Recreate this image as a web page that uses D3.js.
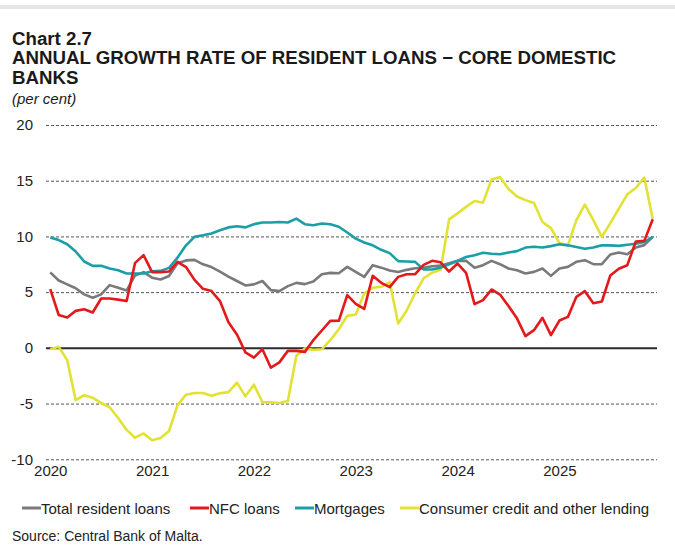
<!DOCTYPE html>
<html>
<head>
<meta charset="utf-8">
<script src="https://cdn.jsdelivr.net/npm/d3@7"></script>
<style>
  html, body { margin: 0; padding: 0; background: #fff; }
  svg { display: block; font-family: "Liberation Sans", Arial, sans-serif; }
</style>
</head>
<body>
<svg id="chart" width="675" height="545"></svg>
<script>
// Monthly observations, January 2020 to December 2025
const months = d3.timeMonths(new Date(2020, 0, 1), new Date(2026, 0, 1));

const yearLabels = ["2020", "2021", "2022", "2023", "2024", "2025"];
const yTicks = [20, 15, 10, 5, 0, -5, -10];

const seriesNames = ["Total resident loans", "NFC loans", "Mortgages", "Consumer credit and other lending"];
const seriesColors = ["#7a7a7c", "#e3191c", "#1a9fa6", "#e2e235"];

const totalLoans = [
  6.77, 6.05, 5.7, 5.35, 4.8, 4.5, 4.8, 5.63, 5.4, 5.15, 6.5, 6.8,
  6.3, 6.14, 6.45, 7.6, 7.85, 7.9, 7.5, 7.25, 6.85, 6.4, 6.0, 5.6,
  5.7, 6.0, 5.18, 5.09, 5.54, 5.83, 5.72, 5.96, 6.61, 6.73, 6.7, 7.27,
  6.82, 6.37, 7.42, 7.2, 6.95, 6.8, 7.0, 7.15, 7.18, 7.33, 7.38, 7.6,
  7.81, 7.81, 7.18, 7.42, 7.81, 7.51, 7.12, 6.97, 6.67, 6.82, 7.12, 6.46,
  7.12, 7.27, 7.72, 7.87, 7.51, 7.51, 8.38, 8.56, 8.41, 9.01, 9.22, 9.96
];

const nfcLoans = [
  5.27, 2.95, 2.73, 3.32, 3.47, 3.17, 4.43, 4.43, 4.33, 4.2, 7.63, 8.32,
  6.8, 6.8, 6.85, 7.72, 7.25, 6.1, 5.3, 5.1, 4.2, 2.3, 1.2, -0.4,
  -0.88, -0.12, -1.78, -1.3, -0.27, -0.27, -0.36, 0.69, 1.56, 2.42, 2.43, 4.73,
  3.95, 3.5, 6.47, 5.84, 5.45, 6.37, 6.61, 6.61, 7.45, 7.81, 7.68, 6.85,
  7.57, 6.73, 3.92, 4.28, 5.24, 4.78, 3.75, 2.65, 1.05, 1.59, 2.7, 1.14,
  2.45, 2.78, 4.58, 5.09, 4.0, 4.16, 6.5, 7.1, 7.42, 9.55, 9.6, 11.55
];

const mortgages = [
  9.9, 9.67, 9.3, 8.65, 7.75, 7.36, 7.36, 7.12, 6.97, 6.68, 6.67, 6.67,
  6.88, 6.91, 7.18, 8.1, 9.2, 9.96, 10.1, 10.27, 10.55, 10.81, 10.92, 10.81,
  11.1, 11.25, 11.25, 11.3, 11.25, 11.6, 11.1, 11.0, 11.16, 11.1, 10.87, 10.35,
  9.8, 9.46, 9.2, 8.8, 8.5, 7.78, 7.75, 7.72, 7.03, 7.03, 7.2, 7.5,
  7.8, 8.15, 8.32, 8.53, 8.45, 8.4, 8.55, 8.68, 9.0, 9.07, 9.0, 9.13,
  9.3, 9.2, 9.05, 8.9, 9.0, 9.2, 9.2, 9.15, 9.25, 9.35, 9.5, 9.96
];

const consumerCredit = [
  -0.13, 0.09, -1.1, -4.7, -4.25, -4.47, -4.95, -5.33, -6.3, -7.36, -8.06, -7.68,
  -8.3, -8.08, -7.45, -5.15, -4.2, -4.05, -4.05, -4.3, -4.07, -3.97, -3.12, -4.35,
  -3.3, -4.88, -4.88, -4.95, -4.77, -0.7, -0.05, -0.18, -0.13, 0.69, 1.67, 2.87,
  3.0, 4.88, 5.39, 5.48, 5.9, 2.19, 3.35, 4.9, 6.25, 6.75, 7.0, 11.53,
  12.07, 12.65, 13.18, 13.03, 15.1, 15.33, 14.25, 13.58, 13.26, 13.0, 11.3, 10.75,
  9.4, 9.2, 11.46, 12.85, 11.46, 9.96, 11.2, 12.5, 13.78, 14.35, 15.28, 11.57
];

const seriesValues = [totalLoans, nfcLoans, mortgages, consumerCredit];

const svg = d3.select("#chart");

// Thin grey rule along the top
svg.append("rect").attr("x", 0).attr("y", 5).attr("width", 675).attr("height", 4).attr("fill", "#e6e6e6");

// Titles
const titleLines = [
  { text: "Chart 2.7", y: 45 },
  { text: "ANNUAL GROWTH RATE OF RESIDENT LOANS \u2212 CORE DOMESTIC", y: 64 },
  { text: "BANKS", y: 84 }
];
svg.selectAll("text.title").data(titleLines).join("text")
  .attr("class", "title")
  .attr("x", 12).attr("y", d => d.y)
  .attr("font-size", 18.7).attr("font-weight", "bold").attr("fill", "#1a1a1a")
  .text(d => d.text);
svg.append("text").attr("x", 12).attr("y", 104)
  .attr("font-size", 15).attr("font-style", "italic").attr("fill", "#1a1a1a")
  .text("(per cent)");

// Scales
const x = d3.scalePoint().domain(d3.range(months.length)).range([46, 657]).padding(0.5);
const y = d3.scaleLinear().domain([-10, 20]).range([459.3, 125]);

// Horizontal gridlines and y labels
const yAxis = d3.axisLeft(y).tickValues(yTicks).tickSize(-(657 - 46)).tickFormat(d3.format("d"));
const gy = svg.append("g").attr("transform", "translate(46,0)").call(yAxis);
gy.select(".domain").remove();
gy.selectAll(".tick line")
  .attr("stroke", d => d === 0 ? "#2b2b2b" : "#555")
  .attr("stroke-width", d => d === 0 ? 2 : 1)
  .attr("stroke-dasharray", d => d === 0 ? null : "3,2");
gy.selectAll(".tick text")
  .attr("x", -13).attr("font-size", 15).attr("fill", "#222")
  .attr("font-family", "Liberation Sans, Arial, sans-serif")
  .text(d => d < 0 ? "-" + Math.abs(d) : d);

// Year labels on the January of each year
const janIdx = months.map((m, i) => i).filter(i => months[i].getMonth() === 0);
const xAxis = d3.axisBottom(x).tickValues(janIdx).tickSize(0)
  .tickFormat((d, i) => yearLabels[i]);
const gx = svg.append("g").attr("transform", "translate(0,465)").call(xAxis);
gx.select(".domain").remove();
gx.selectAll(".tick text").attr("dy", "0.71em").attr("y", 0)
  .attr("font-size", 15).attr("fill", "#222")
  .attr("font-family", "Liberation Sans, Arial, sans-serif");

// Lines (drawn so that the last series sits on top of the first)
const line = d3.line().x((d, i) => x(i)).y(d => y(d));
const drawOrder = [3, 0, 2, 1];
svg.append("g").selectAll("path").data(drawOrder).join("path")
  .attr("d", k => line(seriesValues[k]))
  .attr("fill", "none")
  .attr("stroke", k => seriesColors[k])
  .attr("stroke-width", 2.6)
  .attr("stroke-linejoin", "round");

// Legend
const legendX = [22, 190, 295, 400];
const lg = svg.append("g").selectAll("g").data(seriesNames).join("g")
  .attr("transform", (d, i) => `translate(${legendX[i]},508)`);
lg.append("line").attr("x1", 0).attr("x2", 19).attr("y1", 0).attr("y2", 0)
  .attr("stroke", (d, i) => seriesColors[i]).attr("stroke-width", 3);
lg.append("text").attr("x", 19).attr("y", 5.5)
  .attr("font-size", 15).attr("fill", "#222").text(d => d);

// Source note
svg.append("text").attr("x", 12).attr("y", 541)
  .attr("font-size", 14).attr("fill", "#222")
  .text("Source: Central Bank of Malta.");
</script>
</body>
</html>
